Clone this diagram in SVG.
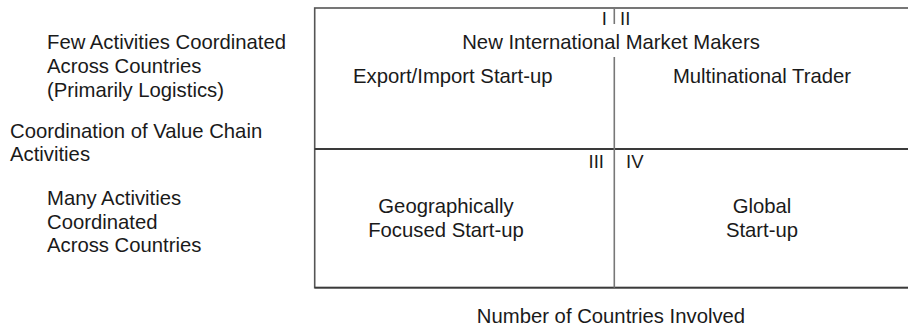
<svg xmlns="http://www.w3.org/2000/svg" width="908" height="329" viewBox="0 0 908 329">
<style>
text{font-family:"Liberation Sans",Arial,sans-serif;font-size:20.3px;fill:#1a1a1a}
.num{font-size:18.5px}
.mid{text-anchor:middle}
.end{text-anchor:end}
.frame{fill:none;stroke:#555;stroke-width:1.6}
.div{stroke:#777;stroke-width:1.6;fill:none}
.hdiv{stroke:#3a3a3a;stroke-width:1.8;fill:none}
</style>
<rect width="908" height="329" fill="#fff"/>
<g id="connectors">
<rect class="frame" x="314.7" y="8" width="620" height="279.7"/>
<line class="hdiv" x1="314.7" y1="149" x2="908" y2="149"/>
<line class="hdiv" x1="314.7" y1="287.7" x2="908" y2="287.7"/>
<line class="div" x1="614.3" y1="8" x2="614.3" y2="24"/>
<line class="div" x1="614.3" y1="57" x2="614.3" y2="287.7"/>
</g>
<g id="header">
<text class="num end" x="607" y="25">I</text>
<text class="num" x="620" y="25">II</text>
<text class="mid" x="611" y="49">New International Market Makers</text>
</g>
<g id="q1"><text x="353" y="83">Export/Import Start-up</text></g>
<g id="q2"><text class="mid" x="762" y="83">Multinational Trader</text></g>
<g id="q3">
<text class="num end" x="604" y="168">III</text>
<text class="mid" x="446" y="213">Geographically</text>
<text class="mid" x="446" y="237">Focused Start-up</text>
</g>
<g id="q4">
<text class="num" x="626" y="168">IV</text>
<text class="mid" x="762" y="213">Global</text>
<text class="mid" x="762" y="237">Start-up</text>
</g>
<g id="y-axis">
<text x="47" y="49">Few Activities Coordinated</text>
<text x="47" y="73">Across Countries</text>
<text x="47" y="97">(Primarily Logistics)</text>
<text x="10" y="138">Coordination of Value Chain</text>
<text x="10" y="161">Activities</text>
<text x="47" y="205">Many Activities</text>
<text x="47" y="229">Coordinated</text>
<text x="47" y="252">Across Countries</text>
</g>
<g id="x-axis"><text class="mid" x="611" y="323">Number of Countries Involved</text></g>
</svg>
